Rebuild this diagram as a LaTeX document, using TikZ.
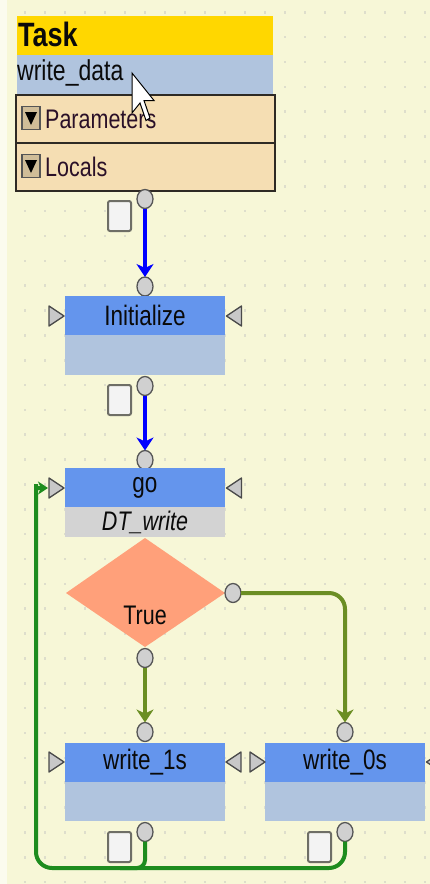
\documentclass[tikz,border=0pt]{standalone}
\usepackage{fontspec}
\usepackage{graphicx}
\setmainfont{Liberation Sans}
\usetikzlibrary{shapes.geometric,arrows.meta}
\definecolor{bg}{HTML}{F7F7D7}
\definecolor{bgedge}{HTML}{FBFBEE}
\definecolor{dotc}{HTML}{DEDECC}
\definecolor{gold}{HTML}{FFD700}
\definecolor{steel}{HTML}{B0C4DE}
\definecolor{wheat}{HTML}{F5DEB3}
\definecolor{rowedge}{HTML}{2E2A24}
\definecolor{hdrblue}{HTML}{6495ED}
\definecolor{lgray}{HTML}{D3D3D3}
\definecolor{salmon}{HTML}{FFA07A}
\definecolor{portfill}{HTML}{D0D0D0}
\definecolor{portedge}{HTML}{555555}
\definecolor{stubfill}{HTML}{F3F3F3}
\definecolor{stubedge}{HTML}{6E6E66}
\definecolor{trifill}{HTML}{C8C8C8}
\definecolor{triedge}{HTML}{4A4A4A}
\definecolor{olive}{HTML}{6B8E23}
\definecolor{loopgreen}{HTML}{1E8C1E}
\definecolor{txt}{HTML}{0A0A0A}
\definecolor{purpletxt}{HTML}{2A1028}
\newcommand{\vs}[1]{\scalebox{1}[1.25]{#1}}
\tikzset{
  hdr/.style={fill=hdrblue, minimum width=160pt, minimum height=39pt, inner sep=0pt, outer sep=0pt, anchor=north west, text=txt, font=\fontsize{22.5}{22}\selectfont},
  subrow/.style={fill=#1, minimum width=160pt, minimum height=39pt, inner sep=0pt, outer sep=0pt, anchor=north west, text=txt, font=\itshape\fontsize{21.5}{22}\selectfont},
  port/.style={ellipse, fill=portfill, draw=portedge, line width=1.3pt, minimum width=16pt, minimum height=19pt, inner sep=0pt, outer sep=0pt},
  stub/.style={rectangle, rounded corners=2pt, fill=stubfill, draw=stubedge, line width=2pt, minimum width=23pt, minimum height=30pt, anchor=north west, inner sep=0pt},
  wheatrow/.style={fill=wheat, draw=rowedge, line width=2pt, minimum width=259pt, minimum height=48pt, anchor=north west, inner sep=0pt},
  rowlbl/.style={anchor=west, inner sep=0pt, text=purpletxt, font=\fontsize{21.5}{22}\selectfont},
  icon/.style={fill=wheat!85!black, draw=portedge, line width=1.5pt, minimum width=18pt, minimum height=23pt, inner sep=0pt},
  tip/.style={-{Stealth[length=13pt,width=17pt,inset=4pt]}},
  smalltip/.style={-{Stealth[length=10pt,width=13pt,inset=3pt]}},
  rtri/.pic={\draw[fill=trifill, draw=triedge, line width=1.3pt, line join=round] (-7,-10) -- (8,0) -- (-7,10) -- cycle;},
  ltri/.pic={\draw[fill=trifill, draw=triedge, line width=1.3pt, line join=round] (7,-10) -- (-8,0) -- (7,10) -- cycle;}
}
\begin{document}
\begin{tikzpicture}[x=1pt,y=-1pt]
\useasboundingbox (0,0) rectangle (430,884);
\fill[bg] (0,0) rectangle (430,884);
\fill[bgedge] (0,0) rectangle (7,884);
\foreach \i in {0,...,20}{\foreach \j in {0,...,35}{\fill[dotc] ({24+20*\i},{11+24.85*\j}) rectangle ++(2.2,2.6);}}

% Task block
\node[fill=gold, minimum width=256pt, minimum height=39pt, anchor=north west, inner sep=0pt] (taskhdr) at (17,16) {};
\node[anchor=west, inner sep=0pt, text=txt, font=\bfseries\fontsize{27}{27}\selectfont] (tasklbl) at (18,34) {\vs{Task}};
\node[fill=steel, minimum width=256pt, minimum height=39pt, anchor=north west, inner sep=0pt] (taskname) at (17,55) {};
\node[anchor=west, inner sep=0pt, text=txt, font=\fontsize{23}{23}\selectfont] (namelbl) at (17,73) {\vs{write\_data}};
\node[wheatrow] (params) at (15,94) {};
\node[wheatrow] (locals) at (15,142) {};
\node[icon] (picon) at (31,118) {};
\fill ([shift={(-6,-6)}]picon.center) -- ++(12,0) -- ++(-6,13) -- cycle;
\node[icon] (licon) at (31,166) {};
\fill ([shift={(-6,-6)}]licon.center) -- ++(12,0) -- ++(-6,13) -- cycle;
\node[rowlbl] (plbl) at (45,119) {\vs{Parameters}};
\node[rowlbl] (llbl) at (45,167) {\vs{Locals}};
% mouse cursor
\draw[fill=white, draw=black, line width=1pt, line join=miter] (132,73) -- (132,113) -- (140,103) -- (146,120.5) -- (150,118) -- (144,100.5) -- (154,100.5) -- cycle;

\node[port] (tout) at (145,199) {};
\node[stub] (tstub) at (107,200) {};

% Initialize
\node[port] (iin) at (145,286.5) {};
\node[hdr] (init) at (65,296) {\vs{Initialize}};
\node[subrow=steel, minimum height=40pt] (initsub) at (65,335) {};
\pic at (56,316) {rtri};
\pic at (234.5,316) {ltri};
\node[port] (iout) at (145,386) {};
\node[stub] (istub) at (107,384) {};

% go
\node[port] (gin) at (145,460) {};
\node[hdr] (go) at (65,468) {\vs{go}};
\node[subrow=lgray, minimum height=30pt] (gosub) at (65,507) {\vs{DT\_write}};
\pic at (56,488) {rtri};
\pic at (234.5,488) {ltri};
\coordinate (goleft) at (48,488);

% decision
\fill[salmon] (66,593) -- (145,538) -- (225,593) -- (145,647) -- cycle;
\node[text=txt, font=\fontsize{21.5}{22}\selectfont] (truelbl) at (145,615) {\vs{True}};
\node[port] (dright) at (233,593) {};
\node[port] (dbottom) at (145,658) {};

% write_1s
\node[port] (w1in) at (145,732) {};
\node[hdr] (w1) at (65,743) {\vs{write\_1s}};
\node[subrow=steel] (w1sub) at (65,782) {};
\pic at (56,762) {rtri};
\pic at (234,762) {ltri};
\node[port] (w1out) at (145,832) {};
\node[stub] (w1stub) at (107,831) {};

% write_0s
\node[port] (w0in) at (345,732) {};
\node[hdr] (w0) at (265,743) {\vs{write\_0s}};
\node[subrow=steel] (w0sub) at (265,782) {};
\pic at (257,762) {rtri};
\pic at (434.5,762) {ltri};
\node[port] (w0out) at (345,832) {};
\node[stub] (w0stub) at (307,831) {};

% connectors
\draw[blue, line width=3.8pt, tip] (tout.south) -- (iin.north);
\draw[blue, line width=3.8pt, tip] (iout.south) -- (gin.north);
\draw[olive, line width=4pt, tip] (dbottom.south) -- (w1in.north);
\draw[olive, line width=4pt, tip, rounded corners=16pt] (dright.east) -- (345,593) -- (w0in.north);
\draw[loopgreen, line width=4pt, rounded corners=8pt] (w1out.south) -- (145,868) -- (120,868);
\draw[loopgreen, line width=4pt, smalltip, rounded corners=16pt] (w0out.south) -- (345,868) -- (36,868) -- (36,500) [sharp corners] -- (36,488) -- (goleft);
\end{tikzpicture}
\end{document}
